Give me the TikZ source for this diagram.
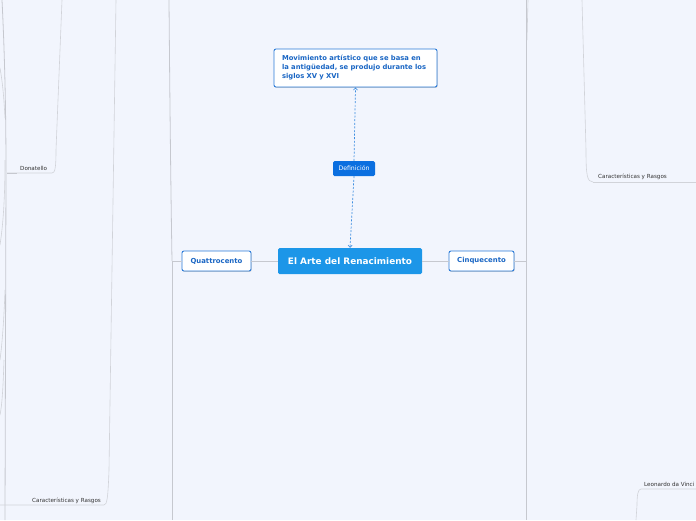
\documentclass[tikz,border=0pt]{standalone}
\usepackage{fontspec}
\setmainfont{DejaVu Sans}
\usetikzlibrary{shadows,arrows.meta}
\definecolor{bg}{HTML}{F2F5FD}
\definecolor{bluebd}{HTML}{2B7BD8}
\definecolor{bluetx}{HTML}{1A66C4}
\definecolor{centralfill}{HTML}{1C96E8}
\definecolor{deffill}{HTML}{0B6FE0}
\definecolor{dashblue}{HTML}{3C8DE0}
\definecolor{linegray}{HTML}{C6C8CF}
\definecolor{labeltx}{HTML}{333333}
\begin{document}
\begin{tikzpicture}[x=1pt,y=-1pt,
  topic/.style={draw=bluebd, line width=0.9pt, fill=white, rounded corners=2pt,
    text=bluetx, font=\fontsize{6.9}{8}\bfseries\selectfont, inner sep=0pt,
    drop shadow={shadow xshift=0.6pt,shadow yshift=-0.9pt,opacity=0.35}},
  central/.style={fill=centralfill, rounded corners=1.5pt, text=white,
    font=\fontsize{8.9}{10}\bfseries\selectfont, inner sep=0pt,
    minimum width=144pt, minimum height=26pt},
  relbox/.style={fill=deffill, rounded corners=1.5pt, text=white,
    font=\fontsize{6.2}{7}\selectfont, inner sep=0pt,
    minimum width=42pt, minimum height=15pt},
  leaf/.style={text=labeltx, font=\fontsize{5.6}{6}\selectfont, inner sep=0pt},
  conn/.style={draw=linegray, line width=0.8pt},
  thin/.style={draw=linegray!80, line width=0.6pt},
  rel/.style={draw=dashblue, line width=0.7pt, dash pattern=on 2pt off 1.6pt,
    -{Straight Barb[length=2.2pt,width=4pt,line width=0.6pt]}}
]
\fill[bg] (0,0) rectangle (696,520);
\useasboundingbox (0,0) rectangle (696,520);

% ---- gray branch lines (behind) ----
\coordinate (qj) at (172,261);
\coordinate (qtop) at (169,0);
\coordinate (qbot) at (172,520);
\coordinate (cj) at (526,261);
\coordinate (ctop) at (526,0);
\coordinate (cbot) at (526,520);

% left side Donatello
\coordinate (dl) at (7,173);
\coordinate (dr) at (52,173);
\coordinate (dtop) at (62,0);
% left side Caracteristicas
\coordinate (kl) at (0,505);
\coordinate (kr) at (104,505);
\coordinate (ktop) at (116,0);
% right side Caracteristicas
\coordinate (rl) at (593,182);
\coordinate (rr) at (696,182);
\coordinate (rtop) at (582,0);
% Leonardo
\coordinate (ll) at (641,489);
\coordinate (lr) at (696,489);
\coordinate (lbot) at (636,520);

% far-left spines
\draw[conn] (2,0) .. controls (5,60) and (6,120) .. (6,173) -- (5,520);
\draw[thin] (0,68) .. controls (3,85) and (4,100) .. (5,118);
\draw[thin] (5,160) .. controls (5,200) and (3,225) .. (0,245);
\draw[thin] (5,290) .. controls (4,320) and (2,345) .. (0,360);
\draw[thin] (4,360) .. controls (3,390) and (2,405) .. (0,415);

\draw[thin] (dl) -- (dr) .. controls (55,173) and (56,168) .. (56,150) -- (dtop);
\draw[conn,line width=1pt] (dl) -- (17,173);
\draw[thin] (kl) -- (kr) .. controls (107,505) and (108,498) .. (109,470) -- (ktop);
\draw[thin] (rl) .. controls (587,182) and (586,175) .. (586,150) -- (rtop);
\draw[thin] (rl) -- (rr);
\draw[thin] (lr) -- (ll) .. controls (638,489) and (637,495) .. (637,505) -- (lbot);
\draw[thin] (528,0) -- (527,40);

% ---- nodes ----
\node[central] (root) at (350,261) {El Arte del Renacimiento};
\node[topic, minimum width=69pt, minimum height=20pt] (quat) at (216.5,261) {Quattrocento};
\node[topic, minimum width=65pt, minimum height=20pt] (cinq) at (481.5,261) {Cinquecento};
\node[relbox] (defn) at (354,168.5) {Definición};
\node[topic, minimum width=163pt, minimum height=38pt, align=left,
      text width=147pt, font=\fontsize{6.8}{9}\bfseries\selectfont] (defbox) at (355.5,68)
  {\raisebox{-1pt}{\parbox[t]{147pt}{\raggedright Movimiento artístico que se basa en\\la antigüedad, se produjo durante los\\siglos XV y XVI}}};

\node[leaf, anchor=base west] (don) at (20,170) {Donatello};
\node[leaf, anchor=base west] (car1) at (32,502) {Características y Rasgos};
\node[leaf, anchor=base west] (car2) at (598,178) {Características y Rasgos};
\node[leaf, anchor=base west] (leo) at (644,486) {Leonardo da Vinci};

% ---- connectors ----
\draw[conn] (root.west) -- (quat.east);
\draw[conn] (root.east) -- (cinq.west);
\draw[conn] (quat.west) -- (qj);
\draw[conn] (qj) .. controls (171,200) and (170,120) .. (qtop);
\draw[conn] (qj) -- (qbot);
\draw[conn] (cinq.east) -- (cj);
\draw[conn] (cj) -- (ctop);
\draw[conn] (cj) -- (cbot);

\draw[rel] (defn.south) -- (root.north);
\draw[rel] (defn.north) -- (defbox.south);
\end{tikzpicture}
\end{document}
